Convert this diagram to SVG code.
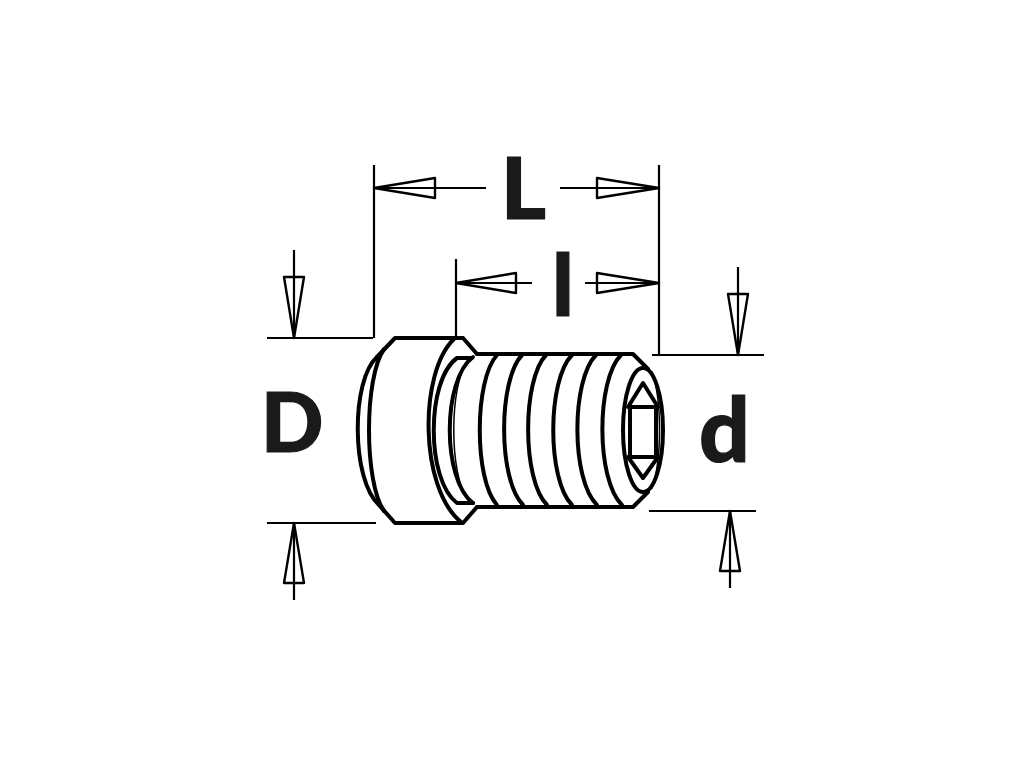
<svg xmlns="http://www.w3.org/2000/svg" width="1024" height="768" viewBox="0 0 1024 768">
<style>
.o{fill:none;stroke:#000;stroke-width:4;stroke-linejoin:round;stroke-linecap:round}
.t{stroke-width:1.5}
.d{fill:none;stroke:#000;stroke-width:2.2;stroke-linejoin:round}
.h{fill:none;stroke:#000;stroke-width:2.4;stroke-linejoin:round}
.l{font-family:Lato,"Noto Sans",sans-serif;font-weight:900;fill:#1a1a1a;stroke:#1a1a1a;stroke-width:1.2;font-size:86px}
</style>
<rect width="1024" height="768" fill="#fff"/>
<g id="screw">
<path class="o" d="M477 354H633L648 369M477 507H633L648 492"/>
<path class="o" d="M377 357C351 380 351 480 379 505"/>
<path class="o" d="M463 338L477 354M463 523L477 507M395 338H463M395 523H463M395 338L377 357M395 523L379 505"/>
<path class="o" d="M384 349C364 378 364 482 384 511"/>
<path class="o" d="M454 339C419 372 419 488 461 522"/>
<path class="o" d="M472 358H457C426 380 426 480 457 503H473"/>
<path class="o" d="M473 357C442 380 442 480 473 503"/>
<path class="o t" d="M468 360C449 385 449 475 468 500"/>
<path class="o" d="M497 355C474 380 474 480 497 505"/>
<path class="o" d="M522 355C498 380 498 480 523 505"/>
<path class="o" d="M546 355C522 380 522 480 547 505"/>
<path class="o" d="M572 355C547 380 547 480 572 505"/>
<path class="o" d="M596 355C571 380 571 480 597 505"/>
<path class="o" d="M621 355C596 380 596 480 622 505"/>
<ellipse class="o" cx="643" cy="430" rx="20" ry="62"/>
<path class="o t" d="M652 372C662 400 662 460 652 488"/>
<path class="o" d="M628 407L643 383L658 407ZM628 457L643 478L658 457Z"/>
<path class="o" d="M630 407V457M656 407V457"/>
</g>
<g id="connectors">
<path class="d" d="M374 165V338M659 165V355M456 259V340"/>
<path class="d" d="M374 188H486M560 188H659M456 283H532M585 283H659"/>
<path class="d" d="M267 338H373M267 523H376M652 355H764M649 511H756"/>
<path class="d" d="M294 250V338M294 523V600M738 267V355M730 511V588"/>
<path class="h" d="M374 188L435 178V198ZM659 188L597 178V198ZM456 283L516 273V293ZM659 283L597 273V293Z"/>
<path class="h" d="M294 338L284 277H304ZM294 523L284 583H304ZM738 355L728 294H748ZM730 511L720 571H740Z"/>
</g>
<g id="labels">
<text class="l" x="501" y="219">L</text>
<text class="l" x="552" y="316">l</text>
<text class="l" x="261" y="452" style="font-size:82px">D</text>
<text class="l" x="699" y="462" style="font-size:89px">d</text>
</g>
</svg>
